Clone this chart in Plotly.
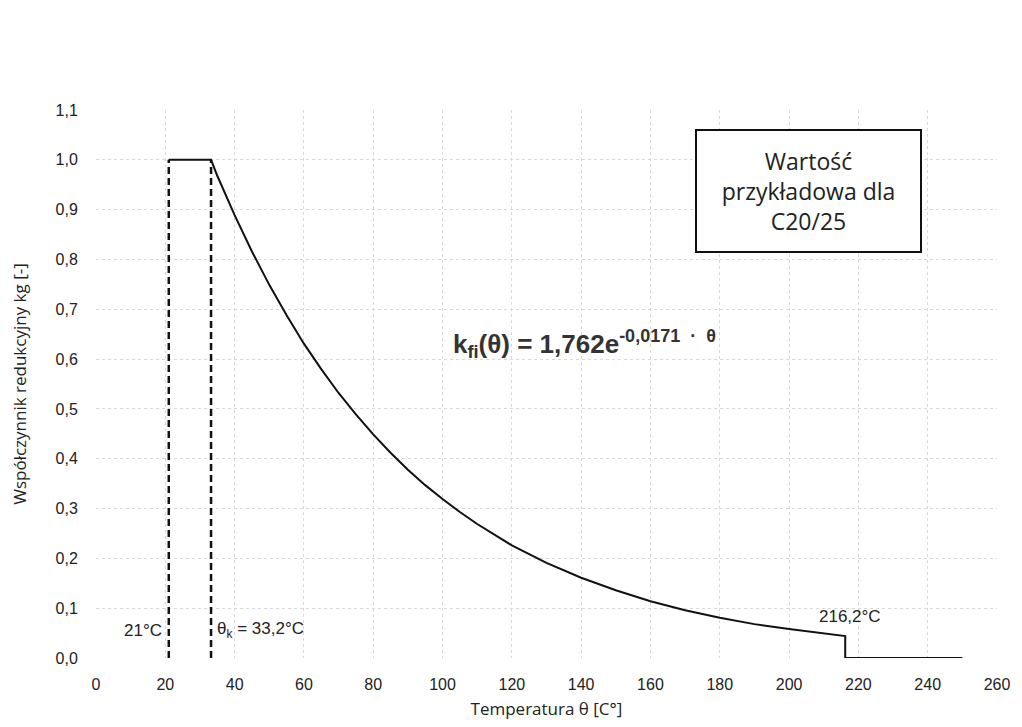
import plotly.graph_objects as go

# Curve
temp = [21, 33.2, 35, 40, 45, 50, 55, 60, 65, 70, 75, 80, 85, 90, 95, 100, 105, 110,
        120, 130, 140, 150, 160, 170, 180, 190, 200, 210, 216.2, 216.2, 250]
kfi = [1.0, 1.0, 0.968, 0.889, 0.816, 0.749, 0.688, 0.631, 0.580, 0.532, 0.489, 0.449,
       0.412, 0.378, 0.347, 0.319, 0.293, 0.269, 0.226, 0.191, 0.161, 0.136, 0.114,
       0.096, 0.081, 0.068, 0.058, 0.049, 0.044, 0.0, 0.0]

vlines_x = [21, 33.2]
vlines_top = 1.0

x_ticks = list(range(0, 261, 20))
y_ticks = [round(i * 0.1, 1) for i in range(12)]

fig = go.Figure()

for vx in vlines_x:
    fig.add_trace(go.Scatter(x=[vx, vx], y=[0, vlines_top], mode="lines",
                             line=dict(color="#111", width=2.5, dash="7px,4px"),
                             showlegend=False, hoverinfo="skip"))

fig.add_trace(go.Scatter(x=temp, y=kfi, mode="lines",
                         line=dict(color="#111", width=2), showlegend=False))

font_lbl = dict(family="Liberation Sans, Arial", size=17, color="#222")

fig.add_annotation(x=19.6, y=0.056, text="21°C", showarrow=False, xanchor="right",
                   font=font_lbl)
fig.add_annotation(x=34.2, y=0.056, text="θ<sub>k</sub> = 33,2°C", showarrow=False,
                   xanchor="left", font=font_lbl)
fig.add_annotation(x=217.5, y=0.084, text="216,2°C", showarrow=False,
                   font=font_lbl)
fig.add_annotation(x=102.5, y=0.63, xanchor="left",
                   text="<b>k<sub>fi</sub>(θ) = 1,762e<sup><span style=\"font-size:18px\">-0,0171  ·  θ</span></sup></b>",
                   showarrow=False,
                   font=dict(family="Liberation Sans, Arial", size=26, color="#333"))
fig.add_annotation(x=205.5, y=0.938,
                   text="Wartość<br>przykładowa dla<br>C20/25",
                   showarrow=False, width=221, height=118,
                   bordercolor="#111", borderwidth=2, bgcolor="white",
                   font=dict(family="Open Sans, Noto Sans", size=23, color="#222"))

fig.update_layout(
    width=1014, height=719,
    margin=dict(l=87, r=19, t=102, b=67),
    plot_bgcolor="white", paper_bgcolor="white",
    separators=", ",
    xaxis=dict(range=[0, 260], tickvals=x_ticks, showgrid=True,
               gridcolor="#d9d9d9", griddash="dot", gridwidth=1,
               zeroline=False, showline=False, ticks="outside", ticklen=12,
               tickcolor="rgba(0,0,0,0)",
               tickfont=dict(family="Liberation Sans, Arial", size=16, color="#222"),
               title=dict(text="Temperatura θ [C°]", standoff=10,
                          font=dict(family="Open Sans, Noto Sans", size=17, color="#222"))),
    yaxis=dict(range=[0, 1.1], tickvals=y_ticks, tickformat=".1f", showgrid=True,
               gridcolor="#d9d9d9", griddash="dot", gridwidth=1,
               zeroline=False, showline=False, ticks="outside", ticklen=14,
               tickcolor="rgba(0,0,0,0)",
               tickfont=dict(family="Liberation Sans, Arial", size=16, color="#222"),
               title=dict(text="Współczynnik redukcyjny kg [-]", standoff=24,
                          font=dict(family="Open Sans, Noto Sans", size=17, color="#222"))),
)

fig.write_html("out.html")
